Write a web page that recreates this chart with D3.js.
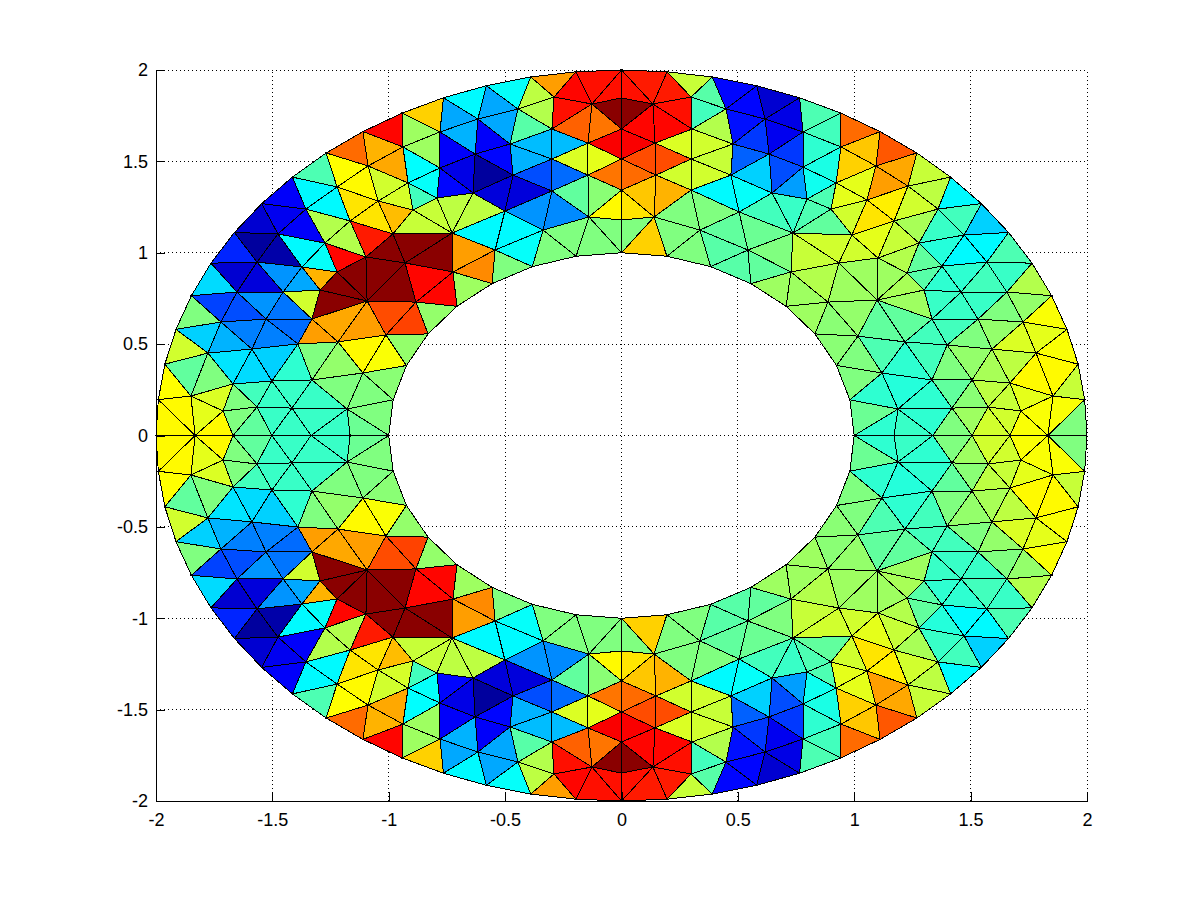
<!DOCTYPE html>
<html><head><meta charset="utf-8">
<script src="https://cdn.jsdelivr.net/npm/d3@7"></script>
<style>html,body{margin:0;background:#fff}svg{display:block}text{font-family:"Liberation Sans",Arial,sans-serif;font-size:18px;fill:#000}</style>
</head><body><div id="c"></div>
<script>
const tickValues=[-2,-1.5,-1,-0.5,0,0.5,1,1.5,2];
const outerRing=[[-2,0],[-1.99,.196],[-1.962,.39],[-1.914,.581],[-1.848,.765],[-1.764,.943],[-1.663,1.111],[-1.546,1.269],[-1.414,1.414],[-1.269,1.546],[-1.111,1.663],[-.943,1.764],[-.765,1.848],[-.581,1.914],[-.39,1.962],[-.196,1.99],[0,2],[.196,1.99],[.39,1.962],[.581,1.914],[.765,1.848],[.943,1.764],[1.111,1.663],[1.269,1.546],[1.414,1.414],[1.546,1.269],[1.663,1.111],[1.764,.943],[1.848,.765],[1.914,.581],[1.962,.39],[1.99,.196],[2,0],
[1.99,-.196],[1.962,-.39],[1.914,-.581],[1.848,-.765],[1.764,-.943],[1.663,-1.111],[1.546,-1.269],[1.414,-1.414],[1.269,-1.546],[1.111,-1.663],[.943,-1.764],[.765,-1.848],[.581,-1.914],[.39,-1.962],[.196,-1.99],[0,-2],[-.196,-1.99],[-.39,-1.962],[-.581,-1.914],[-.765,-1.848],[-.943,-1.764],[-1.111,-1.663],[-1.269,-1.546],[-1.414,-1.414],[-1.546,-1.269],[-1.663,-1.111],[-1.764,-.943],[-1.848,-.765],[-1.914,-.581],[-1.962,-.39],[-1.99,-.196]];
const innerRing=[[-1,0],[-.981,.195],[-.924,.383],[-.831,.556],[-.707,.707],[-.556,.831],[-.383,.924],[-.195,.981],[0,1],[.195,.981],[.383,.924],[.556,.831],[.707,.707],[.831,.556],[.924,.383],[.981,.195],[1,0],
[.981,-.195],[.924,-.383],[.831,-.556],[.707,-.707],[.556,-.831],[.383,-.924],[.195,-.981],[0,-1],[-.195,-.981],[-.383,-.924],[-.556,-.831],[-.707,-.707],[-.831,-.556],[-.924,-.383],[-.981,-.195]];
const interiorUpper=[[-1.832,0],[-1.669,0],[-1.502,0],[-1.334,0],[-1.166,0],[1.171,0],[1.338,0],[1.506,0],[1.669,0],[1.832,0],
[-1.85,.216],[-1.712,.134],[-1.566,.156],[-1.416,.15],[-1.179,.145],[-1.669,.282],[-1.502,.298],[-1.33,.304],[-1.111,.342],[-1.777,.451],[-1.588,.473],[-1.39,.501],[-1.218,.512],[-1.012,.55],[-1.721,.621],[-1.527,.637],[-1.33,.637],[-1.093,.736],[-.883,.73],[-1.652,.785],[-1.454,.785],[-1.295,.796],[-1.566,.949],[-1.373,.922],[-1.222,.895],[-1.098,.977],[-.93,.944],[-.724,.895],[-1.476,1.103],[-1.356,1.239],[-1.274,1.053],[-1.166,1.174],[-.982,1.103],[-.728,1.108],[-.896,1.234],[-1.046,1.283],[-1.222,1.36],[-1.089,1.475],[-.917,1.382],[-.939,1.579],[-.793,1.3],[-.78,1.464],[-.78,1.661],
[-.617,1.732],[-.445,1.787],[-.29,1.852],[-.127,1.814],[0,1.847],[.135,1.814],[.299,1.852],[.449,1.787],[.617,1.732],[-.629,1.54],[-.479,1.595],[-.299,1.677],[-.144,1.6],[0,1.677],[.144,1.6],[.303,1.677],[.479,1.595],[.634,1.54],[-.466,1.425],[-.299,1.513],[-.144,1.425],[0,1.513],[.148,1.425],[.299,1.513],[.47,1.425],[.647,1.327],[-.638,1.327],[-.501,1.228],[-.299,1.338],[-.14,1.196],[0,1.343],[.14,1.196],[.299,1.343],[.505,1.223],[-.337,1.124],[-.543,1.015],[.337,1.124],[0,1.179],[.543,1.015],
[.78,1.661],[.943,1.579],[1.093,1.475],[.78,1.469],[.922,1.382],[1.055,1.289],[1.231,1.365],[.797,1.294],[.9,1.239],[1.171,1.174],[1.36,1.239],[1.472,1.097],[.737,1.108],[.99,1.097],[1.278,1.053],[1.102,.971],[.728,.895],[.934,.944],[1.227,.889],[1.377,.927],[1.57,.949],[.887,.73],[1.098,.741],[1.3,.796],[1.459,.785],[1.656,.785],[1.016,.544],[1.218,.512],[1.334,.637],[1.532,.637],[1.725,.621],[1.399,.495],[1.592,.473],[1.781,.451],[1.119,.342],[1.334,.304],[1.506,.304],[1.669,.287],[1.854,.216],[1.188,.145],[1.42,.15],[1.575,.156],[1.716,.134]];
const interiorLower=[[-1.85,-.216],[-1.712,-.134],[-1.566,-.156],[-1.416,-.15],[-1.179,-.145],[-1.669,-.282],[-1.502,-.298],[-1.33,-.304],[-1.111,-.342],[-1.777,-.451],[-1.588,-.473],[-1.39,-.501],[-1.218,-.512],[-1.012,-.55],[-1.721,-.621],[-1.527,-.637],[-1.33,-.637],[-1.093,-.736],[-.883,-.73],[-1.652,-.785],[-1.454,-.785],[-1.295,-.796],[-1.566,-.949],[-1.373,-.922],[-1.222,-.895],[-1.098,-.977],[-.93,-.944],[-.724,-.895],[-1.476,-1.103],[-1.356,-1.239],[-1.274,-1.053],[-1.166,-1.174],[-.982,-1.103],[-.728,-1.108],[-.896,-1.234],[-1.046,-1.283],[-1.222,-1.36],[-1.089,-1.475],[-.917,-1.382],[-.939,-1.579],[-.793,-1.3],[-.78,-1.464],[-.78,-1.661],
[-.617,-1.732],[-.445,-1.787],[-.29,-1.852],[-.127,-1.814],[0,-1.847],[.135,-1.814],[.299,-1.852],[.449,-1.787],[.617,-1.732],[-.629,-1.54],[-.479,-1.595],[-.299,-1.677],[-.144,-1.6],[0,-1.677],[.144,-1.6],[.303,-1.677],[.479,-1.595],[.634,-1.54],[-.466,-1.425],[-.299,-1.513],[-.144,-1.425],[0,-1.513],[.148,-1.425],[.299,-1.513],[.47,-1.425],[.647,-1.327],[-.638,-1.327],[-.501,-1.228],[-.299,-1.338],[-.14,-1.196],[0,-1.343],[.14,-1.196],[.299,-1.343],[.505,-1.223],[-.337,-1.124],[-.543,-1.015],[.337,-1.124],[0,-1.179],[.543,-1.015],
[.78,-1.661],[.943,-1.579],[1.093,-1.475],[.78,-1.469],[.922,-1.382],[1.055,-1.289],[1.231,-1.365],[.797,-1.294],[.9,-1.239],[1.171,-1.174],[1.36,-1.239],[1.472,-1.097],[.737,-1.108],[.99,-1.097],[1.278,-1.053],[1.102,-.971],[.728,-.895],[.934,-.944],[1.227,-.889],[1.377,-.927],[1.57,-.949],[.887,-.73],[1.098,-.741],[1.3,-.796],[1.459,-.785],[1.656,-.785],[1.016,-.544],[1.218,-.512],[1.334,-.637],[1.532,-.637],[1.725,-.621],[1.399,-.495],[1.592,-.473],[1.781,-.451],[1.119,-.342],[1.334,-.304],[1.506,-.304],[1.669,-.287],[1.854,-.216],[1.188,-.145],[1.42,-.15],[1.575,-.156],[1.716,-.134]];
const cellsUpper=[[-1.153,1.567,.77],[-.995,1.677,.87],[-1.046,1.579,.7],[-.982,1.48,.71],[-.827,1.765,.67],[-.883,1.672,.53],[-.832,1.568,.53],[-.879,1.475,.375],[-.832,1.382,.38],[-.866,1.305,.44],[-1.304,1.447,.45],[-1.192,1.464,.625],[-1.119,1.376,.63],[-1.016,1.382,.58],[-.952,1.3,.585],[-1.145,1.272,.65],[-1.068,1.185,.65],[-.977,1.206,.69],[-.87,1.146,.57],[-.806,1.212,.57],[-.72,1.245,.56],[-1.334,1.343,.37],[-1.252,1.261,.37],[-1.437,1.31,.12],[-1.459,1.206,.11],[-1.558,1.168,.08],[-1.369,1.13,.12],[-1.265,1.157,.55],[-1.179,1.07,.55],[-1.08,1.087,.85],[-1.003,1.01,.99],[-.879,1.03,.99],[-.793,.982,.99],[-1.137,.868,.99],[-1.042,.884,.99],[-.969,.8,.99],[-1.205,.829,.99],[-1.24,.725,.99],[-.844,.856,.87],[-.771,.78,.87],[-1.197,.977,.87],[-.664,1.004,.72],[-.608,.917,.74],[-.664,.818,.53],[-1.214,.627,.71],[-1.106,.6,.72],[-1.313,.55,.72],[-.995,.67,.8],[-.909,.616,.81],[-.806,.67,.52],[-1.115,.522,.63],[-1.016,.424,.62],[-.92,.5,.52],[-1.218,.386,.52],[-1.312,.44,.5],[-1.007,.304,.51],[-1.205,.265,.5],[-1.089,.227,.5],[-1.055,.112,.5],[-1.115,.052,.48],[-1.493,.424,.33],[-1.407,.369,.42],[-1.587,.353,.34],[-1.678,.402,.35],[-1.579,.249,.44],[-1.416,.259,.43],[-1.493,.205,.43],[-1.31,.205,.43],[-1.648,.194,.5],[-1.742,.21,.59],[-1.765,.315,.5],[-1.867,.325,.47],[-1.884,.457,.58],[-1.936,.27,.625],[-1.802,.555,.33],[-1.824,.659,.5],[-1.739,.725,.19],[-1.751,.835,.34],[-1.66,.889,.08],[-1.66,1.004,.16],[-1.566,1.053,.03],[-1.471,1.01,.04],[-1.373,1.026,.37],[-1.291,.955,.38],[-1.558,.84,.09],[-1.463,.883,.27],[-1.373,.834,.29],[-1.295,.873,.7],[-1.36,.736,.58],[-1.437,.687,.24],[-1.48,.736,.27],[-1.635,.681,.2],[-1.613,.577,.25],[-1.416,.594,.23],[-1.502,.539,.25],[-1.695,.517,.3],[-1.948,.145,.58],[-1.892,.125,.63],[-1.798,.118,.6],[-1.738,.047,.63],[-1.648,.096,.5],[-1.579,.052,.47],[-1.493,.101,.43],[-1.416,.052,.43],[-1.31,.101,.43],[-1.236,.05,.43],
[-.655,1.836,.37],[-.72,1.754,.29],[-.548,1.814,.29],[-.47,1.896,.38],[-.376,1.869,.56],[-.29,1.94,.72],[-.204,1.89,.87],[-.105,1.945,.86],[-.04,1.89,.86],[.045,1.89,.86],[.113,1.945,.85],[.213,1.89,.85],[.295,1.945,.57],[.38,1.869,.46],[.475,1.896,.13],[-.243,1.781,.86],[-.191,1.699,.78],[-.088,1.699,.76],[-.04,1.781,.99],[.04,1.781,.99],[.092,1.699,.87],[.195,1.699,.87],[.247,1.781,.86],[.35,1.77,.44],[.41,1.688,.55],[.358,1.595,.58],[.247,1.595,.59],[.208,1.513,.8],[.05,1.595,.88],[-.05,1.595,.88],[.098,1.513,.8],[-.123,1.513,.6],[-.249,1.513,.59],[-.247,1.595,.31],[-.359,1.595,.31],[-.41,1.688,.46],[-.346,1.77,.55],[-.518,1.704,.29],[-.574,1.622,.12],[-.677,1.644,.3],[-.73,1.557,.12],[-.681,1.442,.1],[-.526,1.518,.13],[-.578,1.431,.03],[-.535,1.327,.09],[-.423,1.332,.09],[-.354,1.425,.2],[-.415,1.513,.3],[-.247,1.425,.23],[-.737,1.365,.13],[-.196,1.327,.47],[-.045,1.425,.76],[.05,1.425,.77],[-.094,1.32,.51],[-.045,1.24,.63],[.05,1.24,.65],[.097,1.32,.68],[.195,1.32,.7],[.247,1.425,.58],[.358,1.425,.58],[.41,1.513,.57],[-.26,1.217,.26],[-.38,1.228,.27],[-.466,1.124,.37],[-.423,1.01,.38],[-.496,.922,.5],[-.307,1.009,.5],[-.225,1.103,.5],[-.11,1.053,.5],[-.045,1.124,.5],[.05,1.124,.5],[.113,1.053,.67],[.26,1.223,.5],[.38,1.228,.5],[.225,1.103,.5],[.427,1.332,.37],[.539,1.327,.38],[.582,1.431,.33],[.526,1.518,.22],[.574,1.622,.18],[.513,1.704,.14],[.548,1.814,.13],[.655,1.84,.08],[.72,1.754,.1],[.677,1.644,.11],[.73,1.557,.18],[.685,1.447,.2],[.741,1.365,.28],
[.83,1.765,.45],[.887,1.672,.44],[.878,1.568,.42],[.882,1.475,.4],[.83,1.382,.39],[.875,1.305,.45],[1,1.672,.77],[1.05,1.573,.68],[1.158,1.568,.79],[1.197,1.464,.71],[1.128,1.376,.72],[.986,1.48,.67],[1.02,1.382,.6],[.96,1.305,.6],[.98,1.206,.58],[1.07,1.185,.65],[1.154,1.278,.64],[1.25,1.261,.58],[1.338,1.343,.56],[1.308,1.447,.57],[1.44,1.31,.37],[1.459,1.206,.44],[1.56,1.223,.33],[1.566,1.053,.37],[1.665,1.004,.45],[1.369,1.13,.43],[1.27,1.162,.54],[1.09,1.08,.6],[1.184,1.08,.57],[1.2,.97,.55],[1.295,.955,.47],[1.377,1.026,.41],[1.472,.993,.37],
[1.467,.889,.42],[1.562,.84,.44],[1.665,.895,.43],[1.759,.835,.55],[1.742,.736,.52],[1.828,.659,.62],[1.807,.555,.6],[1.884,.479,.62],[1.699,.517,.59],[1.66,.68,.5],[1.549,.736,.43],[1.441,.687,.43],[1.364,.741,.43],[1.617,.572,.52],[1.42,.588,.44],[1.506,.539,.5],[1.497,.43,.52],[1.587,.413,.54],[1.682,.408,.56],[1.768,.32,.63],[1.867,.358,.63],[1.936,.27,.57],[1.948,.14,.62],[1.895,.074,.5],[1.8,.118,.62],[1.746,.21,.6],[1.738,.047,.62],[1.652,.194,.57],[1.652,.101,.58],[1.583,.052,.58],[1.583,.249,.56],[1.5,.205,.51],[1.42,.254,.47],[1.5,.107,.53],[1.42,.05,.5],[1.317,.1,.42],[1.213,.265,.41],[1.313,.2,.42],[1.23,.05,.43],[1.059,.118,.48],[1.119,.052,.42],[1.098,.227,.42],[1.01,.309,.5],[1.02,.424,.5],[1.119,.468,.45],[1.222,.386,.42],[1.317,.44,.44],[1.411,.364,.5],[1.317,.55,.44],[1.218,.632,.47],[1.244,.725,.53],[1.11,.6,.47],[1,.67,.52],[.913,.61,.51],[.815,.665,.53],[.775,.78,.53],[.849,.851,.55],[.973,.807,.53],[1.045,.889,.53],[1.14,.868,.53],[1.209,.807,.54],[1.3,.873,.46],[1.377,.834,.42],
[.887,1.053,.58],[1.007,1.004,.58],[.801,.982,.57],[.874,1.152,.47],[.81,1.212,.45],[.728,1.245,.43],[.629,1.218,.44],[.595,1.114,.48],[.462,1.118,.47],[.423,1.02,.46],[.307,1.009,.5],[.668,1.004,.5],[.608,.917,.47],[.664,.813,.53],[.496,.927,.46]];
const cellsLower=[[-1.153,-1.567,.77],[-.995,-1.677,.87],[-1.046,-1.579,.7],[-.982,-1.48,.71],[-.827,-1.765,.67],[-.883,-1.672,.53],[-.832,-1.568,.53],[-.879,-1.475,.375],[-.832,-1.382,.38],[-.866,-1.305,.44],[-1.304,-1.447,.45],[-1.192,-1.464,.625],[-1.119,-1.376,.63],[-1.016,-1.382,.58],[-.952,-1.3,.585],[-1.145,-1.272,.65],[-1.068,-1.185,.65],[-.977,-1.206,.69],[-.87,-1.146,.57],[-.806,-1.212,.57],[-.72,-1.245,.56],[-1.334,-1.343,.37],[-1.252,-1.261,.37],[-1.437,-1.31,.12],[-1.459,-1.206,.11],[-1.558,-1.168,.08],[-1.369,-1.13,.12],[-1.265,-1.157,.55],[-1.179,-1.07,.55],[-1.08,-1.087,.85],[-1.003,-1.01,.99],[-.879,-1.03,.99],[-.793,-.982,.99],[-1.137,-.868,.99],[-1.042,-.884,.99],[-.969,-.8,.99],[-1.205,-.829,.99],[-1.24,-.725,.99],[-.844,-.856,.87],[-.771,-.78,.87],[-1.197,-.977,.87],[-.664,-1.004,.72],[-.608,-.917,.74],[-.664,-.818,.53],[-1.214,-.627,.71],[-1.106,-.6,.72],[-1.313,-.55,.72],[-.995,-.67,.8],[-.909,-.616,.81],[-.806,-.67,.52],[-1.115,-.522,.63],[-1.016,-.424,.62],[-.92,-.5,.52],[-1.218,-.386,.52],[-1.312,-.44,.5],[-1.007,-.304,.51],[-1.205,-.265,.5],[-1.089,-.227,.5],[-1.055,-.112,.5],[-1.115,-.052,.48],[-1.493,-.424,.33],[-1.407,-.369,.42],[-1.587,-.353,.34],[-1.678,-.402,.35],[-1.579,-.249,.44],[-1.416,-.259,.43],[-1.493,-.205,.43],[-1.31,-.205,.43],[-1.648,-.194,.5],[-1.742,-.21,.59],[-1.765,-.315,.5],[-1.867,-.325,.47],[-1.884,-.457,.58],[-1.936,-.27,.625],[-1.802,-.555,.33],[-1.824,-.659,.5],[-1.739,-.725,.19],[-1.751,-.835,.34],[-1.66,-.889,.08],[-1.66,-1.004,.16],[-1.566,-1.053,.03],[-1.471,-1.01,.04],[-1.373,-1.026,.37],[-1.291,-.955,.38],[-1.558,-.84,.09],[-1.463,-.883,.27],[-1.373,-.834,.29],[-1.295,-.873,.7],[-1.36,-.736,.58],[-1.437,-.687,.24],[-1.48,-.736,.27],[-1.635,-.681,.2],[-1.613,-.577,.25],[-1.416,-.594,.23],[-1.502,-.539,.25],[-1.695,-.517,.3],[-1.948,-.145,.58],[-1.892,-.125,.63],[-1.798,-.118,.6],[-1.738,-.047,.63],[-1.648,-.096,.5],[-1.579,-.052,.47],[-1.493,-.101,.43],[-1.416,-.052,.43],[-1.31,-.101,.43],[-1.236,-.05,.43],
[-.655,-1.836,.37],[-.72,-1.754,.29],[-.548,-1.814,.29],[-.47,-1.896,.38],[-.376,-1.869,.56],[-.29,-1.94,.72],[-.204,-1.89,.87],[-.105,-1.945,.86],[-.04,-1.89,.86],[.045,-1.89,.86],[.113,-1.945,.85],[.213,-1.89,.85],[.295,-1.945,.57],[.38,-1.869,.46],[.475,-1.896,.13],[-.243,-1.781,.86],[-.191,-1.699,.78],[-.088,-1.699,.76],[-.04,-1.781,.99],[.04,-1.781,.99],[.092,-1.699,.87],[.195,-1.699,.87],[.247,-1.781,.86],[.35,-1.77,.44],[.41,-1.688,.55],[.358,-1.595,.58],[.247,-1.595,.59],[.208,-1.513,.8],[.05,-1.595,.88],[-.05,-1.595,.88],[.098,-1.513,.8],[-.123,-1.513,.6],[-.249,-1.513,.59],[-.247,-1.595,.31],[-.359,-1.595,.31],[-.41,-1.688,.46],[-.346,-1.77,.55],[-.518,-1.704,.29],[-.574,-1.622,.12],[-.677,-1.644,.3],[-.73,-1.557,.12],[-.681,-1.442,.1],[-.526,-1.518,.13],[-.578,-1.431,.03],[-.535,-1.327,.09],[-.423,-1.332,.09],[-.354,-1.425,.2],[-.415,-1.513,.3],[-.247,-1.425,.23],[-.737,-1.365,.13],[-.196,-1.327,.47],[-.045,-1.425,.76],[.05,-1.425,.77],[-.094,-1.32,.51],[-.045,-1.24,.63],[.05,-1.24,.65],[.097,-1.32,.68],[.195,-1.32,.7],[.247,-1.425,.58],[.358,-1.425,.58],[.41,-1.513,.57],[-.26,-1.217,.26],[-.38,-1.228,.27],[-.466,-1.124,.37],[-.423,-1.01,.38],[-.496,-.922,.5],[-.307,-1.009,.5],[-.225,-1.103,.5],[-.11,-1.053,.5],[-.045,-1.124,.5],[.05,-1.124,.5],[.113,-1.053,.67],[.26,-1.223,.5],[.38,-1.228,.5],[.225,-1.103,.5],[.427,-1.332,.37],[.539,-1.327,.38],[.582,-1.431,.33],[.526,-1.518,.22],[.574,-1.622,.18],[.513,-1.704,.14],[.548,-1.814,.13],[.655,-1.84,.08],[.72,-1.754,.1],[.677,-1.644,.11],[.73,-1.557,.18],[.685,-1.447,.2],[.741,-1.365,.28],
[.83,-1.765,.45],[.887,-1.672,.44],[.878,-1.568,.42],[.882,-1.475,.4],[.83,-1.382,.39],[.875,-1.305,.45],[1,-1.672,.77],[1.05,-1.573,.68],[1.158,-1.568,.79],[1.197,-1.464,.71],[1.128,-1.376,.72],[.986,-1.48,.67],[1.02,-1.382,.6],[.96,-1.305,.6],[.98,-1.206,.58],[1.07,-1.185,.65],[1.154,-1.278,.64],[1.25,-1.261,.58],[1.338,-1.343,.56],[1.308,-1.447,.57],[1.44,-1.31,.37],[1.459,-1.206,.44],[1.56,-1.223,.33],[1.566,-1.053,.37],[1.665,-1.004,.45],[1.369,-1.13,.43],[1.27,-1.162,.54],[1.09,-1.08,.6],[1.184,-1.08,.57],[1.2,-.97,.55],[1.295,-.955,.47],[1.377,-1.026,.41],[1.472,-.993,.37],
[1.467,-.889,.42],[1.562,-.84,.44],[1.665,-.895,.43],[1.759,-.835,.55],[1.742,-.736,.52],[1.828,-.659,.62],[1.807,-.555,.6],[1.884,-.479,.62],[1.699,-.517,.59],[1.66,-.68,.5],[1.549,-.736,.43],[1.441,-.687,.43],[1.364,-.741,.43],[1.617,-.572,.52],[1.42,-.588,.44],[1.506,-.539,.5],[1.497,-.43,.52],[1.587,-.413,.54],[1.682,-.408,.56],[1.768,-.32,.63],[1.867,-.358,.63],[1.936,-.27,.57],[1.948,-.14,.62],[1.895,-.074,.5],[1.8,-.118,.62],[1.746,-.21,.6],[1.738,-.047,.62],[1.652,-.194,.57],[1.652,-.101,.58],[1.583,-.052,.58],[1.583,-.249,.56],[1.5,-.205,.51],[1.42,-.254,.47],[1.5,-.107,.53],[1.42,-.05,.5],[1.317,-.1,.42],[1.213,-.265,.41],[1.313,-.2,.42],[1.23,-.05,.43],[1.059,-.118,.48],[1.119,-.052,.42],[1.098,-.227,.42],[1.01,-.309,.5],[1.02,-.424,.5],[1.119,-.468,.45],[1.222,-.386,.42],[1.317,-.44,.44],[1.411,-.364,.5],[1.317,-.55,.44],[1.218,-.632,.47],[1.244,-.725,.53],[1.11,-.6,.47],[1,-.67,.52],[.913,-.61,.51],[.815,-.665,.53],[.775,-.78,.53],[.849,-.851,.55],[.973,-.807,.53],[1.045,-.889,.53],[1.14,-.868,.53],[1.209,-.807,.54],[1.3,-.873,.46],[1.377,-.834,.42],
[.887,-1.053,.58],[1.007,-1.004,.58],[.801,-.982,.57],[.874,-1.152,.47],[.81,-1.212,.45],[.728,-1.245,.43],[.629,-1.218,.44],[.595,-1.114,.48],[.462,-1.118,.47],[.423,-1.02,.46],[.307,-1.009,.5],[.668,-1.004,.5],[.608,-.917,.47],[.664,-.813,.53],[.496,-.927,.46]];

const W=1201,H=900;
const x=d3.scaleLinear().domain([-2,2]).range([156,1087]);
const y=d3.scaleLinear().domain([-2,2]).range([801,70]);
const jet=d3.scaleLinear().domain([0,.125,.375,.625,.875,1]).range(["#000080","#0000ff","#00ffff","#ffff00","#ff0000","#800000"]);
const svg=d3.select("#c").append("svg").attr("width",W).attr("height",H);

// grid
const grid=svg.append("g").attr("stroke","#000").attr("stroke-dasharray","1 3").attr("shape-rendering","crispEdges");
grid.selectAll(".gx").data(tickValues).join("line").attr("x1",d=>x(d)).attr("x2",d=>x(d)).attr("y1",y(-2)).attr("y2",y(2));
grid.selectAll(".gy").data(tickValues).join("line").attr("y1",d=>y(d)).attr("y2",d=>y(d)).attr("x1",x(-2)).attr("x2",x(2));

// mesh
const pts=[...outerRing,...innerRing,...interiorUpper,...interiorLower];
const cellSamples=[...cellsUpper,...cellsLower];
const del=d3.Delaunay.from(pts);
const tris=[];
for(let i=0;i<del.triangles.length;i+=3){
  const t=[del.triangles[i],del.triangles[i+1],del.triangles[i+2]].map(k=>pts[k]);
  const cx=d3.mean(t,p=>p[0]),cy=d3.mean(t,p=>p[1]);
  if(Math.hypot(cx,cy)<1)continue;
  const s=d3.least(cellSamples,c=>(c[0]-cx)**2+(c[1]-cy)**2);
  tris.push({t,v:s[2]});
}
svg.append("g").selectAll("polygon").data(tris).join("polygon")
 .attr("points",d=>d.t.map(p=>[x(p[0]),y(p[1])].join(",")).join(" "))
 .attr("fill",d=>jet(d.v)).attr("stroke","#000").attr("stroke-width",1).attr("shape-rendering","crispEdges");

// axes
const ax=svg.append("g").attr("transform",`translate(0,${y(-2)})`).call(d3.axisBottom(x).tickValues(tickValues).tickFormat(String).tickSizeOuter(0).tickSizeInner(-9).tickPadding(12));
const ay=svg.append("g").attr("transform",`translate(${x(-2)},0)`).call(d3.axisLeft(y).tickValues(tickValues).tickFormat(String).tickSizeOuter(0).tickSizeInner(-9).tickPadding(8));
[ax,ay].forEach(a=>{a.selectAll("text").style("font-size","18px").style("font-family",'"Liberation Sans",Arial,sans-serif').attr("fill","#000");a.selectAll("line,path").attr("stroke","#000").attr("shape-rendering","crispEdges");});
</script></body></html>
